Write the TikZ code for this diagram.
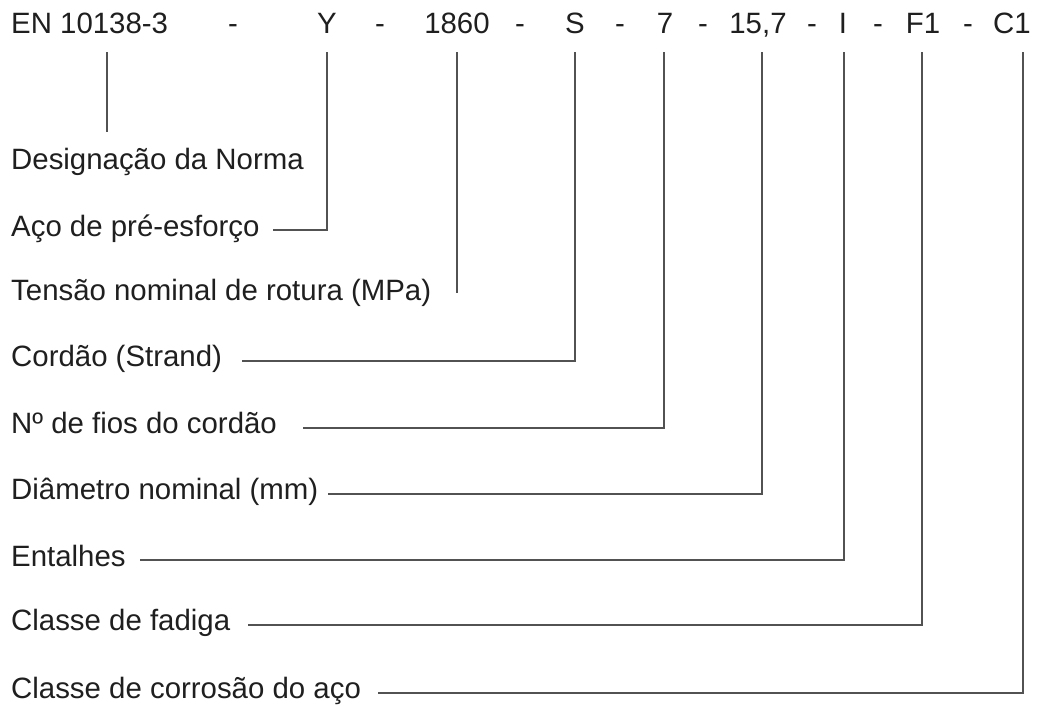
\documentclass[tikz,border=0pt]{standalone}
\usepackage{fontspec}
\setmainfont{Liberation Sans}
\usetikzlibrary{calc}
\begin{document}
\begin{tikzpicture}[x=1pt,y=-1pt,
  txt/.style={inner sep=0pt,font=\fontsize{29.4}{35}\selectfont,text=black!88},
  lab/.style={txt,anchor=base west},
  tok/.style={txt,anchor=base},
  conn/.style={draw=black!68,line width=1.7pt}]
\useasboundingbox[fill=white] (0,0) rectangle (1053,707);
% top designation
\node[lab] (EN) at (11,33) {EN 10138-3};
\node[tok] (h1) at (233,33) {-};
\node[tok] (Y) at (327,33) {Y};
\node[tok] (h2) at (380,33) {-};
\node[tok] (n1860) at (457,33) {1860};
\node[tok] (h3) at (520,33) {-};
\node[tok] (S) at (575,33) {S};
\node[tok] (h4) at (620,33) {-};
\node[tok] (n7) at (665,33) {7};
\node[tok] (h5) at (703,33) {-};
\node[tok] (n157) at (758,33) {15,7};
\node[tok] (h6) at (812,33) {-};
\node[tok] (I) at (843,33) {I};
\node[tok] (h7) at (878,33) {-};
\node[tok] (F1) at (923,33) {F1};
\node[tok] (h8) at (968,33) {-};
\node[tok] (C1) at (1012,33) {C1};
% labels
\node[lab] (L1) at (11,169) {Designação da Norma};
\node[lab] (L2) at (11,236) {Aço de pré-esforço};
\node[lab] (L3) at (11,300) {Tensão nominal de rotura (MPa)};
\node[lab] (L4) at (11,366) {Cordão (Strand)};
\node[lab] (L5) at (11,433) {Nº de fios do cordão};
\node[lab] (L6) at (11,499) {Diâmetro nominal (mm)};
\node[lab] (L7) at (11,566) {Entalhes};
\node[lab] (L8) at (11,630) {Classe de fadiga};
\node[lab] (L9) at (11,698) {Classe de corrosão do aço};
% connectors
\draw[conn] ($(EN.base west)+(96,19)$) -- ($(L1.base west)+(96,-37)$);
\draw[conn] ($(L2.base west)+(262,-6)$) -| ($(Y.base)+(0,19)$);
\draw[conn] ($(n1860.base)+(0,19)$) -- ($(n1860.base |- L3.base)+(0,-7)$);
\draw[conn] ($(L4.base west)+(231,-5)$) -| ($(S.base)+(0,19)$);
\draw[conn] ($(L5.base west)+(292,-5)$) -| ($(n7.base)+(-1,19)$);
\draw[conn] ($(L6.base west)+(317,-5)$) -| ($(n157.base)+(4,19)$);
\draw[conn] ($(L7.base west)+(129,-6)$) -| ($(I.base)+(1,19)$);
\draw[conn] ($(L8.base west)+(237,-5)$) -| ($(F1.base)+(-1,19)$);
\draw[conn] ($(L9.base west)+(367,-5)$) -| ($(C1.base)+(11,19)$);
\end{tikzpicture}
\end{document}
